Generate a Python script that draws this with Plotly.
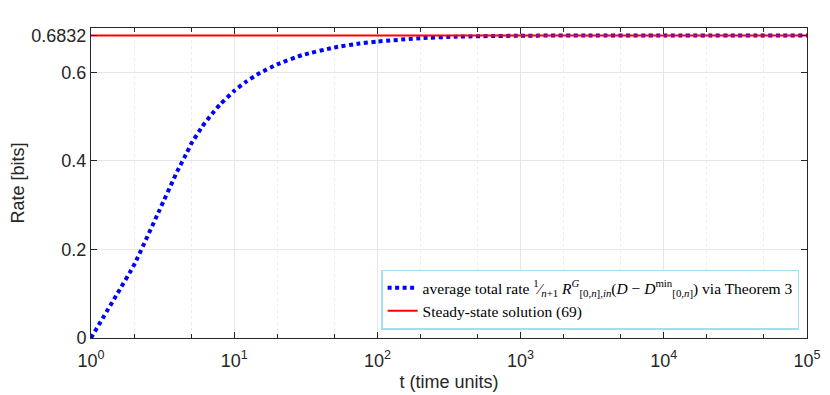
import plotly.graph_objects as go

# values
t_vals = [1, 1.5, 2, 3, 4, 4.7, 5, 6, 7, 8, 10, 12, 15, 20, 30, 50, 75, 100,
          200, 350, 1000, 3000, 10000, 100000]
rate_vals = [0, 0.096, 0.165, 0.288, 0.376, 0.42, 0.438, 0.478, 0.506, 0.528, 0.558,
             0.578, 0.598, 0.618, 0.639, 0.656, 0.665, 0.6695,
             0.677, 0.6805, 0.6826, 0.6831, 0.6832, 0.6832]
steady_state = 0.6832
x_range = [1, 100000]

x_tickvals = [1, 10, 100, 1000, 10000, 100000]
x_ticktext = ["10<sup>0</sup>", "10<sup>1</sup>", "10<sup>2</sup>", "10<sup>3</sup>", "10<sup>4</sup>", "10<sup>5</sup>"]
y_tickvals = [0, 0.2, 0.4, 0.6, 0.6832]
y_ticktext = ["0", "0.2", "0.4", "0.6", "0.6832"]

avg_label = ("average total rate <sup>1</sup>&#8260;<sub><i>n</i>+1</sub> "
             "<i>R</i><sup><i>G</i></sup><sub>[0,<i>n</i>],<i>in</i></sub>"
             "(<i>D</i> − <i>D</i><sup>min</sup><sub>[0,<i>n</i>]</sub>) via Theorem 3")
ss_label = "Steady-state solution (69)"

fig = go.Figure()
fig.add_trace(go.Scatter(
    x=t_vals, y=rate_vals, mode="lines", name=avg_label,
    line=dict(color="#0000ff", width=4, dash="4px,3.5px", shape="spline", smoothing=0.4),
))
fig.add_trace(go.Scatter(
    x=x_range, y=[steady_state, steady_state], mode="lines", name=ss_label,
    line=dict(color="#ff0000", width=2),
))

axis_font = dict(family="Liberation Sans, Arial, sans-serif", size=18, color="#262626")

# the page body adds an 8px offset, so the figure is a bit smaller than the window
fig.update_layout(
    width=822, height=387,
    margin=dict(l=83, r=23, t=20, b=57),
    plot_bgcolor="white", paper_bgcolor="white",
    font=axis_font,
    legend=dict(
        x=0.989, y=0.027, xanchor="right", yanchor="bottom",
        bgcolor="white", bordercolor="#a8dcef", borderwidth=1.5,
        font=dict(family="Liberation Serif, Times New Roman, serif", size=15.5, color="black"),
        tracegroupgap=0, itemwidth=30,
    ),
    xaxis=dict(
        type="log", range=[0, 5], automargin=False,
        tickvals=x_tickvals, ticktext=x_ticktext, ticklabelstandoff=6,
        title=dict(text="t (time units)", font=axis_font, standoff=5),
        showline=True, linecolor="#262626", linewidth=1, mirror="allticks",
        ticks="inside", ticklen=6, tickcolor="#262626",
        showgrid=True, gridcolor="#e6e6e6", gridwidth=1,
        minor=dict(ticks="inside", ticklen=4, tickcolor="#262626",
                   showgrid=True, gridcolor="#ececec", griddash="dot"),
        zeroline=False,
    ),
    yaxis=dict(
        range=[0, 0.7], automargin=False,
        tickvals=y_tickvals, ticktext=y_ticktext,
        title=dict(text="Rate [bits]", font=axis_font, standoff=9),
        showline=True, linecolor="#262626", linewidth=1, mirror="allticks",
        ticks="inside", ticklen=6, tickcolor="#262626",
        showgrid=True, gridcolor="#e6e6e6", gridwidth=1,
        zeroline=False,
    ),
)

fig.write_html("out.html")
